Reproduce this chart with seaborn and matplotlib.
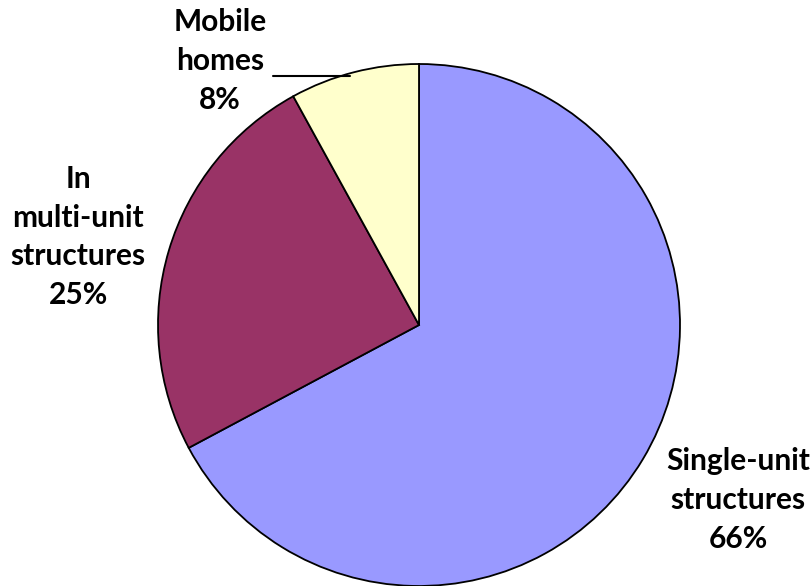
import matplotlib
matplotlib.use("Agg")
import matplotlib.pyplot as plt
import seaborn as sns

# housing type shares (pie)
categories = ["Single-unit\nstructures", "In\nmulti-unit\nstructures", "Mobile\nhomes"]
values = [67.2, 24.8, 8.0]
pct_labels = ["66%", "25%", "8%"]
colors = ["#9999FF", "#993366", "#FFFFCC"]

sns.set_theme(style="white")
plt.rcParams["font.family"] = ["Lato", "DejaVu Sans"]

fig = plt.figure(figsize=(8.1, 5.86), dpi=100)
ax = fig.add_axes([0, 0, 1, 1])
ax.axis("off")

ax.pie(values, colors=sns.color_palette(colors), startangle=90, counterclock=False,
       center=(419, 586 - 325), radius=261,
       wedgeprops=dict(edgecolor="black", linewidth=1.3))
ax.set_xlim(0, 810)
ax.set_ylim(0, 586)
ax.set_aspect("equal")

# label positions (pixel coords, y from top)
label_pos = [(738, 500), (78, 237), (220, 61)]
for cat, pct, (x, y) in zip(categories, pct_labels, label_pos):
    ax.text(x, 586 - y, cat + "\n" + pct, ha="center", va="center",
            fontsize=21.5, fontweight="bold", linespacing=1.47, color="black")

# leader line for mobile homes
ax.plot([273, 350], [586 - 76, 586 - 76], color="black", linewidth=1.5)

fig.savefig("out.png", dpi=100)
